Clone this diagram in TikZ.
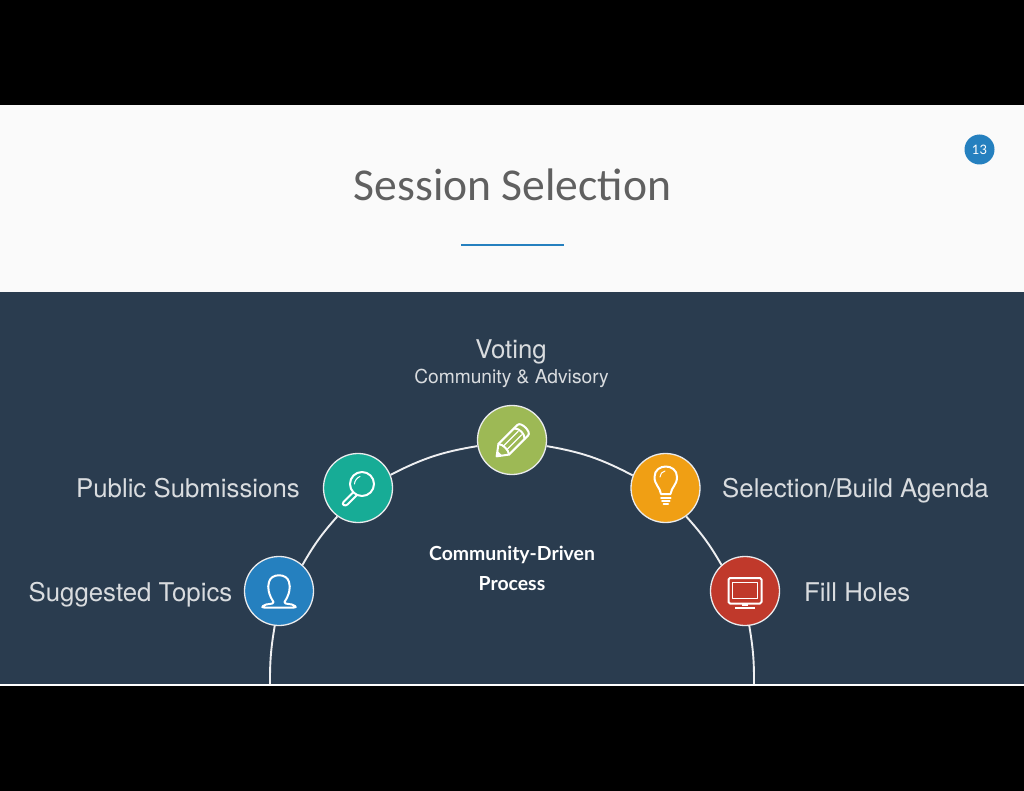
\documentclass[tikz,border=0pt]{standalone}
\usepackage{fontspec}
\setmainfont{Lato}
\newfontfamily\titlefont{Carlito}
\newfontfamily\labelfont{TeX Gyre Heros}
\definecolor{slate}{HTML}{2A3C4F}
\definecolor{paper}{HTML}{FAFAFA}
\definecolor{accent}{HTML}{2580BF}
\definecolor{teal}{HTML}{17AC96}
\definecolor{moss}{HTML}{9DB955}
\definecolor{amber}{HTML}{F09F14}
\definecolor{brick}{HTML}{C0392B}
\definecolor{titlegrey}{HTML}{606060}
\tikzset{
  stepdisc/.style={circle, draw=white!90!slate, line width=1.3pt, minimum size=69pt, inner sep=0pt},
  arcline/.style={draw=white!92!slate, line width=1.9pt},
  iconline/.style={draw=white, line width=2pt, line cap=round, line join=round},
  biglabel/.style={font=\labelfont\fontsize{25.8}{30}\selectfont, text=white!82!slate, inner sep=0pt},
  smalllabel/.style={font=\labelfont\fontsize{19.2}{24}\selectfont, text=white!82!slate, inner sep=0pt},
  centerlabel/.style={font=\bfseries\fontsize{19.4}{24}\selectfont, text=white, inner sep=0pt}
}
\begin{document}
\begin{tikzpicture}[x=1pt,y=-1pt]
  \useasboundingbox (0,0) rectangle (1024,791);
  \fill[black] (0,0) rectangle (1024,791);
  \fill[paper] (0,105) rectangle (1024,292);
  \fill[slate] (0,292) rectangle (1024,684);
  \fill[white] (0,684) rectangle (1024,685.5);

  % header
  \node[font=\titlefont\fontsize{45.6}{50}\selectfont, text=titlegrey, inner sep=0pt] (heading) at (512.5,185) {Session Selection};
  \fill[accent] (460.5,244) rectangle (563.5,246.5);
  \node[circle, fill=accent, minimum size=30pt, inner sep=0pt, text=white, font=\fontsize{13}{15}\selectfont] (pagenum) at (979.5,149.5) {13};

  % arc feet
  \coordinate (footL) at (270,684);
  \coordinate (footR) at (754,684);

  % steps
  \node[stepdisc, fill=accent] (topics) at (279,591) {};
  \node[stepdisc, fill=teal] (submit) at (358,488) {};
  \node[stepdisc, fill=moss] (voting) at (512,440) {};
  \node[stepdisc, fill=amber] (select) at (665.5,488) {};
  \node[stepdisc, fill=brick] (holes) at (745,591) {};

  \draw[arcline] (footL) to[bend left=5] (topics.263);
  \draw[arcline] (topics.48) to[bend left=6] (submit.234);
  \draw[arcline] (submit.22) to[bend left=9] (voting.190);
  \draw[arcline] (voting.350) to[bend left=9] (select.159);
  \draw[arcline] (select.306) to[bend left=6] (holes.132);
  \draw[arcline] (holes.277) to[bend left=5] (footR);

  % labels
  \node[biglabel] (votingT) at (511,351.5) {Voting};
  \node[smalllabel] (votingS) at (511.5,378) {Community \& Advisory};
  \node[biglabel, anchor=east] (submitT) at (300,488.5) {Public Submissions};
  \node[biglabel, anchor=east] (topicsT) at (232.5,595) {Suggested Topics};
  \node[biglabel, anchor=west] (selectT) at (722,491) {Selection/Build Agenda};
  \node[biglabel, anchor=west] (holesT) at (804,592) {Fill Holes};
  \node[centerlabel] (centerA) at (512,555) {Community-Driven};
  \node[centerlabel] (centerB) at (512,584) {Process};

  % person
  \draw[iconline] (273.5,602) .. controls (269,595) and (267,588) .. (269,582) .. controls (271,573) and (287,573) .. (289,582) .. controls (291,588) and (289,595) .. (284.5,602) .. controls (284,605) and (292,603) .. (295,606) .. controls (296,607) and (296,607.5) .. (294,607.5) -- (264,607.5) .. controls (262,607.5) and (262,607) .. (263,606) .. controls (266,603) and (274,605) .. (273.5,602) -- cycle;

  % magnifier
  \draw[iconline] (362,484) circle (12);
  \draw[iconline, line width=1pt] (354.5,484) .. controls (354.5,481) and (357,477.5) .. (360,476.5);
  \draw[iconline] (353.5,492) -- (343.5,502) .. controls (341,505) and (345.5,506.5) .. (347.5,504.5) -- (357,495);

  % pencil
  \begin{scope}[shift={(511.5,441.5)}, rotate=45]
    \draw[iconline] (-21,0) -- (-11,-7.5) -- (16,-7.5) .. controls (21,-7.5) and (21,7.5) .. (16,7.5) -- (-11,7.5) -- cycle;
    \draw[iconline] (-11,-7.5) .. controls (-8,-4) and (-8,4) .. (-11,7.5);
    \draw[iconline] (11,-7.5) .. controls (15,-4) and (15,4) .. (11,7.5);
    \draw[iconline, line width=1.3pt] (-9,-2.5) -- (12,-2.5);
    \draw[iconline, line width=1.3pt] (-9,2.5) -- (12,2.5);
    \fill[white] (-21,0) -- (-16.5,-3) -- (-16.5,3) -- cycle;
  \end{scope}

  % bulb
  \draw[iconline] (661,494) .. controls (660,487) and (654.5,485) .. (654.5,477) .. controls (654.5,463) and (677,463) .. (677,477) .. controls (677,485) and (671.5,487) .. (670.5,494) -- cycle;
  \draw[iconline, line width=1pt] (660,477) .. controls (660,474) and (662,471.5) .. (665,471);
  \draw[iconline] (661,497.5) -- (670.5,497.5);
  \draw[iconline] (662,500.5) -- (669.5,500.5);
  \draw[iconline] (663.5,503.5) -- (668,503.5);

  % monitor
  \draw[iconline, rounded corners=1.5pt] (728.5,578) rectangle (761.5,603.5);
  \draw[iconline, line width=1pt] (732.5,582) rectangle (757.5,598);
  \fill[white] (742,603.5) rectangle (748,606);
  \fill[white] (735,606.5) rectangle (755,608.5);
\end{tikzpicture}
\end{document}
